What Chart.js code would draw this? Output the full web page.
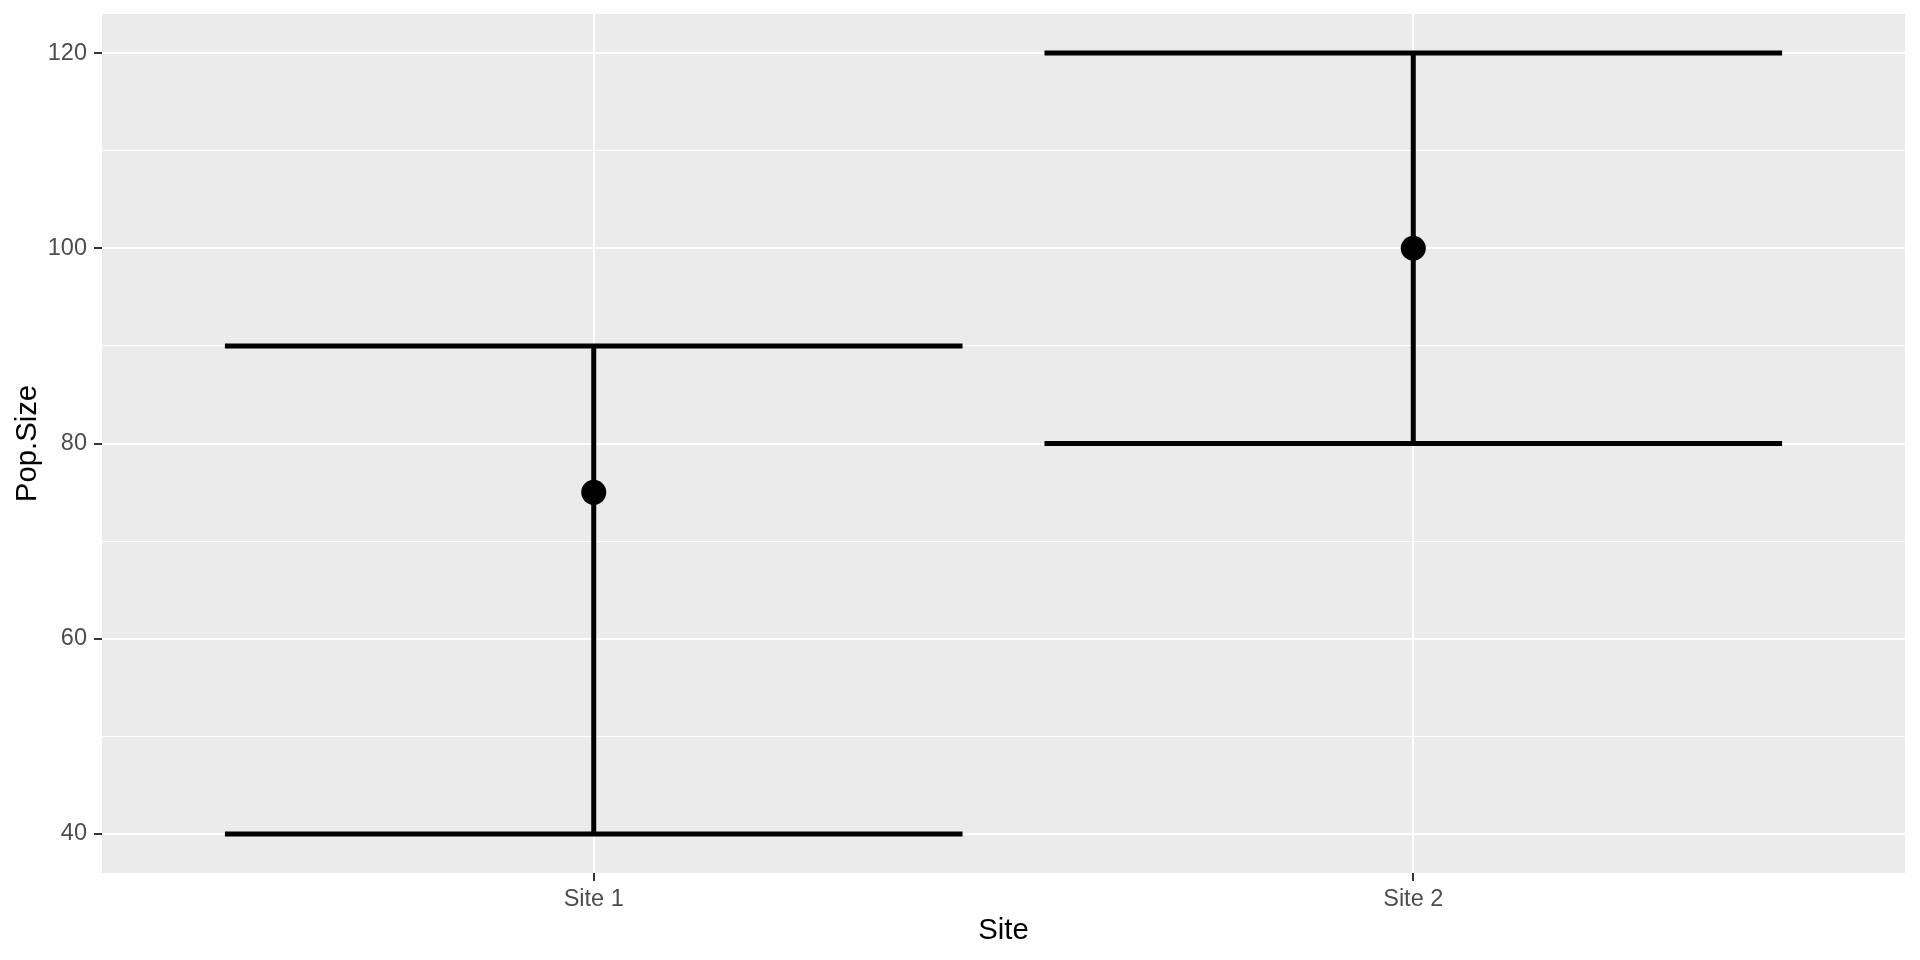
<!DOCTYPE html>
<html>
<head>
<meta charset="utf-8">
<title>Pop.Size by Site</title>
<script src="https://cdn.jsdelivr.net/npm/chart.js@4.4.1/dist/chart.umd.min.js"></script>
<style>
    html, body { margin: 0; padding: 0; background: #ffffff; }
    #wrap { width: 1920px; height: 960px; }
</style>
</head>
<body>
<div id="wrap"><canvas id="popChart" width="1920" height="960"></canvas></div>
<script>
// DATA
const sites = ['Site 1', 'Site 2'];
const sitePos = [1, 2];
const popMean = [75, 100];
const popLower = [40, 80];
const popUpper = [90, 120];
const yTicks = [40, 50, 60, 70, 80, 90, 100, 110, 120];

// errorbar caps span 0.9 of a category
const capHalf = 0.45;
const fontFamily = "'Liberation Sans', Arial, sans-serif";

// one line dataset per segment
function segment(points) {
    return {
        type: 'line',
        data: points,
        showLine: true,
        borderColor: '#000000',
        borderWidth: 5,
        borderCapStyle: 'butt',
        pointRadius: 0,
        fill: false,
        tension: 0
    };
}

const datasets = [];
sites.forEach((site, i) => {
    const x = sitePos[i];
    datasets.push(segment([{ x: x, y: popLower[i] }, { x: x, y: popUpper[i] }]));
    datasets.push(segment([{ x: x - capHalf, y: popUpper[i] }, { x: x + capHalf, y: popUpper[i] }]));
    datasets.push(segment([{ x: x - capHalf, y: popLower[i] }, { x: x + capHalf, y: popLower[i] }]));
});

// mean points on top
datasets.push({
    type: 'scatter',
    data: sites.map((s, i) => ({ x: sitePos[i], y: popMean[i] })),
    pointRadius: 12.5,
    pointBorderWidth: 0,
    pointBackgroundColor: '#000000',
    pointBorderColor: '#000000'
});

// grey panel behind the grid
const panelBg = {
    id: 'panelBg',
    beforeDraw(chart) {
        const { ctx, chartArea } = chart;
        ctx.save();
        ctx.fillStyle = '#EBEBEB';
        ctx.fillRect(chartArea.left, chartArea.top, chartArea.right - chartArea.left, chartArea.bottom - chartArea.top);
        ctx.restore();
    }
};

const isMajor = (v) => v % 20 === 0;

new Chart(document.getElementById('popChart'), {
    type: 'scatter',
    data: { datasets: datasets },
    plugins: [panelBg],
    options: {
        responsive: false,
        animation: false,
        layout: { padding: { top: 14, right: 15, left: 0, bottom: 0 } },
        plugins: {
            legend: { display: false },
            tooltip: { enabled: false }
        },
        scales: {
            x: {
                type: 'linear',
                min: 0.4,
                max: 2.6,
                afterBuildTicks: (axis) => {
                    axis.ticks = sitePos.map(v => ({ value: v }));
                },
                afterFit: (axis) => {
                    axis.height = 87;
                    axis.paddingLeft = 0;
                    axis.paddingRight = 0;
                },
                border: { display: false },
                grid: {
                    color: '#FFFFFF',
                    lineWidth: 2,
                    drawTicks: true,
                    tickLength: 8,
                    tickColor: '#333333',
                    tickWidth: 2
                },
                ticks: {
                    autoSkip: false,
                    maxRotation: 0,
                    padding: 4,
                    color: '#4D4D4D',
                    font: { family: fontFamily, size: 23.5 },
                    callback: (v) => sites[sitePos.indexOf(v)] || ''
                },
                title: {
                    display: true,
                    text: 'Site',
                    color: '#000000',
                    font: { family: fontFamily, size: 29.3 },
                    padding: { top: 0, bottom: 11.5 }
                }
            },
            y: {
                type: 'linear',
                min: 36,
                max: 124,
                afterBuildTicks: (axis) => {
                    axis.ticks = yTicks.map(v => ({ value: v }));
                },
                afterFit: (axis) => {
                    axis.width = 102;
                    axis.paddingTop = 0;
                    axis.paddingBottom = 0;
                },
                border: { display: false },
                grid: {
                    color: '#FFFFFF',
                    lineWidth: (ctx) => (ctx.tick && isMajor(ctx.tick.value)) ? 2 : 1,
                    drawTicks: true,
                    tickLength: 8,
                    tickColor: (ctx) => (ctx.tick && isMajor(ctx.tick.value)) ? '#333333' : 'rgba(0,0,0,0)',
                    tickWidth: 2
                },
                ticks: {
                    autoSkip: false,
                    padding: 7,
                    color: '#4D4D4D',
                    font: { family: fontFamily, size: 23.5 },
                    callback: (v) => isMajor(v) ? String(v) : ''
                },
                title: {
                    display: true,
                    text: 'Pop.Size',
                    color: '#000000',
                    font: { family: fontFamily, size: 29.3 },
                    padding: { top: 10.5, bottom: 0 }
                }
            }
        }
    }
});
</script>
</body>
</html>
